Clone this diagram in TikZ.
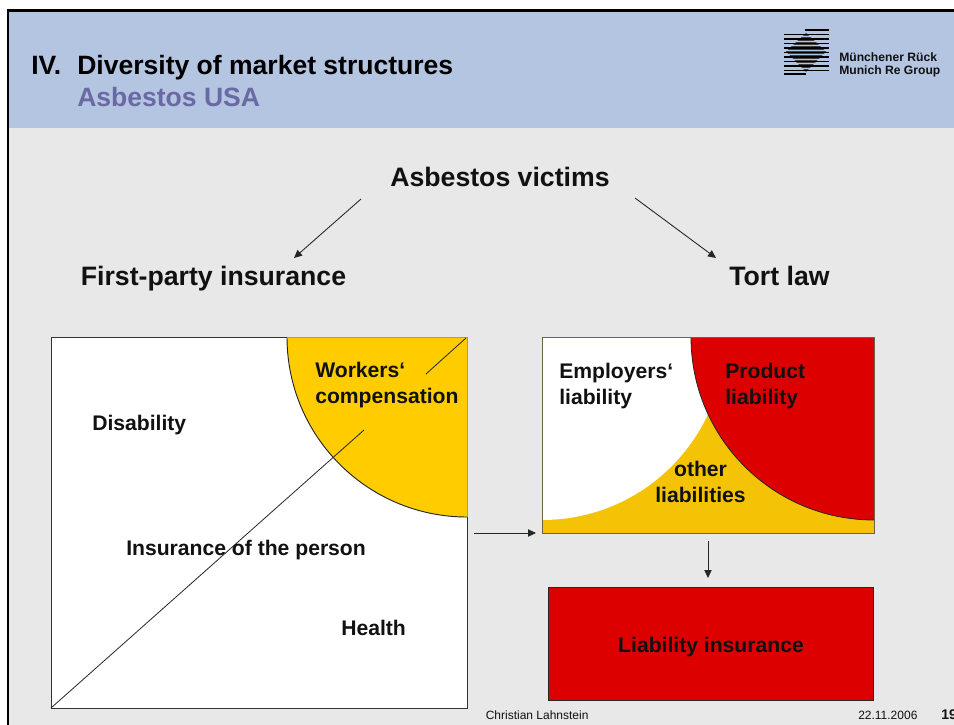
\documentclass[tikz,border=0pt]{standalone}
\usepackage{fontspec}
\setmainfont{Liberation Sans}
\usetikzlibrary{arrows.meta}
\definecolor{hdr}{HTML}{B3C5E1}
\definecolor{bgc}{HTML}{E8E8E8}
\definecolor{sub}{HTML}{6A69A3}
\definecolor{gold}{HTML}{FFCC00}
\definecolor{gold2}{HTML}{F5C305}
\definecolor{red2}{HTML}{DC0000}
\definecolor{txt}{HTML}{111111}
\definecolor{edge}{HTML}{6B6442}
\tikzset{
  x=0.75pt,y=-0.75pt,
  lab/.style={font=\fontsize{15.85}{19.4}\selectfont\bfseries,text=txt,align=left,inner sep=0pt},
  big/.style={font=\fontsize{20}{22}\selectfont\bfseries,text=txt,inner sep=0pt},
  head/.style={font=\fontsize{19.9}{22}\selectfont\bfseries,inner sep=0pt},
  small/.style={font=\fontsize{9}{10}\selectfont,text=txt,inner sep=0pt},
  conn/.style={draw=black!85,line width=0.65pt,-{Triangle[length=6pt,width=5.5pt]}},
  thin/.style={draw=black!85,line width=0.6pt},
  logo/.style={line width=1.2pt,black}
}
\begin{document}
\begin{tikzpicture}
\useasboundingbox (0,0) rectangle (954,725);
\fill[white] (0,0) rectangle (954,725);
\fill[bgc] (8,11) rectangle (954,725);
\fill[hdr] (8,11) rectangle (954,128);
\draw[black,line width=1.9pt] (8,725) -- (8,10.5) -- (954,10.5);
\node[head,anchor=base west] at (31,74.5) {IV.};
\node[head,anchor=base west] at (77,74.5) {Diversity of market structures};
\node[head,anchor=base west,text=sub] at (77,106) {Asbestos USA};
% logo
\begin{scope}
\fill[black!75] (806,33) -- (826,51.5) -- (806,72) -- (786,51.5) -- cycle;
\foreach \y in {32.2,36.7,41.2,45.7,50.2,54.7,59.2,63.7,68.2,72.4}
  \draw[line width=0.55pt,hdr] (780,\y) -- (832,\y);
\foreach \y/\a/\b in {30/805/829,34.5/784/829,39/784/829,43.5/784/829,48/784/829,52.5/784/829,57/784/829,61.5/784/829,66/784/829,70.5/784/829,74/784/806}
  \draw[logo] (\a,\y) -- (\b,\y);
\end{scope}
\node[font=\fontsize{9.1}{10.2}\selectfont\bfseries,text=txt,align=left,inner sep=0pt,anchor=west] (lg) at (839,65) {Münchener Rück\\Munich Re Group};
% titles
\node[big,anchor=base] (victims) at (500,186) {Asbestos victims};
\node[big,anchor=base] (first) at (213.5,285) {First-party insurance};
\node[big,anchor=base] (tort) at (779.5,285) {Tort law};
\coordinate (v1) at (361,199); \coordinate (f1) at (294,258);
\coordinate (v2) at (635,198); \coordinate (t1) at (716,258);
\draw[conn] (v1) -- (f1);
\draw[conn] (v2) -- (t1);
% left square
\fill[white] (51,337) rectangle (467,708);
\fill[gold] (287,337) arc[start angle=180,end angle=270,radius=135pt] -- (467,337) -- cycle;
\draw[black!85,line width=0.7pt] (287,337) arc[start angle=180,end angle=270,radius=135pt];
\draw[black!80,line width=0.7pt] (467,517) -- (467,708) -- (51,708) -- (51,337) -- (287,337);
\draw[black!40,line width=0.7pt] (287,337) -- (467,337) -- (467,517);
\coordinate (d1) at (51,708); \coordinate (d2) at (364,430);
\coordinate (d3) at (426,374); \coordinate (d4) at (466,338);
\draw[thin] (d1) -- (d2);
\draw[thin] (d3) -- (d4);
\node[lab,anchor=base west] at (315,403) {Workers‘\\compensation};
\node[lab,anchor=base west] at (92,430) {Disability};
\node[lab,anchor=base west] at (126,555) {Insurance of the person};
\node[lab,anchor=base west] at (341,635) {Health};
% right box
\fill[gold2] (542,337) rectangle (874,533);
\fill[white] (542,337) -- (725,337) arc[start angle=0,end angle=-90,radius=137.25pt] -- cycle;
\fill[red2] (691,337) arc[start angle=180,end angle=270,radius=137.25pt] -- (874,337) -- cycle;
\draw[black!85,line width=0.6pt] (691,337) arc[start angle=180,end angle=270,radius=137.25pt];
\draw[draw=edge,line width=0.7pt] (542,337) rectangle (874,533);
\node[lab,anchor=base west] at (559,404) {Employers‘\\liability};
\node[lab,anchor=base west] at (725,404) {Product\\liability};
\node[lab,anchor=base,align=center] at (700.5,502) {other\\liabilities};
% liability insurance
\node[draw=black!85,fill=red2,line width=0.7pt,minimum width=243.5pt,minimum height=84.75pt,inner sep=0pt,anchor=north west] (li) at (548,587) {};
\node[lab,anchor=base] at (711,652) {Liability insurance};
\coordinate (a1) at (474,533); \coordinate (a2) at (536,533);
\coordinate (a3) at (708,541); \coordinate (a4) at (708,578);
\draw[conn] (a1) -- (a2);
\draw[conn] (a3) -- (a4);
% footer
\node[small,anchor=base west] at (485.5,719) {Christian Lahnstein};
\node[small,anchor=base west] at (858,719) {22.11.2006};
\node[font=\fontsize{10.5}{12}\selectfont\bfseries,text=txt,inner sep=0pt,anchor=base west] at (941,719) {19};
\end{tikzpicture}
\end{document}
